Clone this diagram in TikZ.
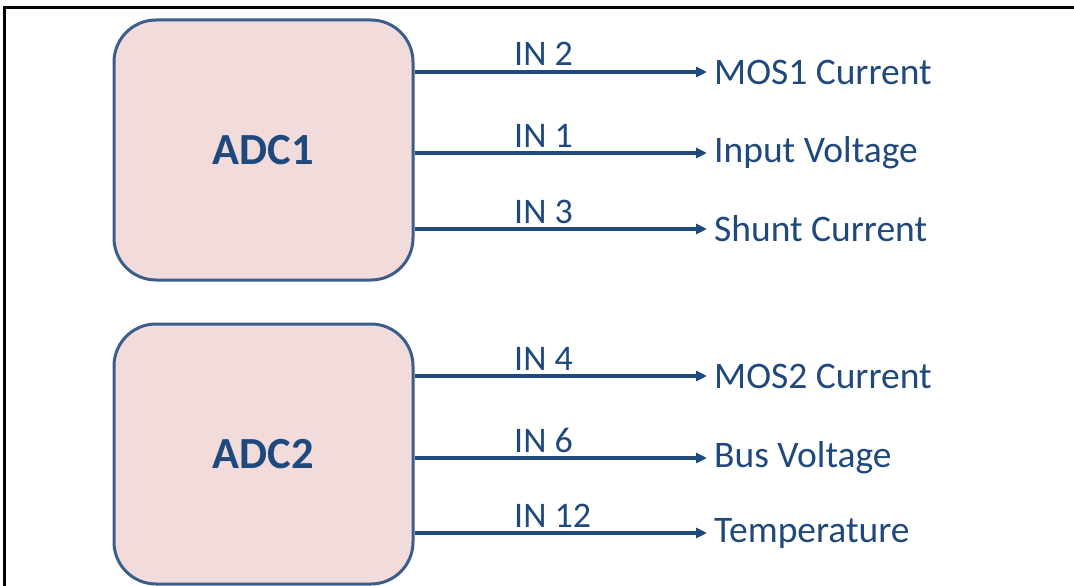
\documentclass[tikz,border=0pt]{standalone}
\usepackage{fontspec}
\setmainfont{Carlito}
\usetikzlibrary{arrows.meta}
\definecolor{boxfill}{HTML}{F2DCDB}
\definecolor{boxline}{HTML}{3A5E8C}
\definecolor{txt}{HTML}{1F497D}
\definecolor{arr}{HTML}{1F4A7C}
\tikzset{
  adcbox/.style={draw=boxline, fill=boxfill, line width=3pt, rounded corners=42pt,
    minimum width=299pt, minimum height=260pt, inner sep=0pt,
    font=\fontsize{44.5}{50}\selectfont\bfseries, text=txt},
  sig/.style={anchor=west, inner sep=0pt, font=\fontsize{37.5}{42}\selectfont, text=txt},
  inlbl/.style={anchor=base west, inner sep=0pt, font=\fontsize{36}{42}\selectfont, text=txt},
  conn/.style={draw=arr, line width=3.2pt, -{Triangle[length=11pt,width=10pt]}, shorten >=7pt},
  frame/.style={draw=black, line width=3pt}
}
\begin{document}
\begin{tikzpicture}[x=1pt,y=-1pt]
\useasboundingbox (0,0) rectangle (1074,586);
\draw[frame] (4,586) -- (4,8) -- (1074,8);
\node[adcbox] (adc1) at (263.5,150) {ADC1};
\node[adcbox] (adc2) at (263.5,454) {ADC2};
\node[sig] (s1) at (714,72) {MOS1 Current};
\node[sig] (s2) at (714,153) {Input Voltage};
\node[sig] (s3) at (714,229) {Shunt Current};
\node[sig] (s4) at (714,376) {MOS2 Current};
\node[sig] (s5) at (714,458) {Bus Voltage};
\node[sig] (s6) at (714,533) {Temperature};
\draw[conn] (adc1.east |- s1.west) -- (s1.west);
\draw[conn] (adc1.east |- s2.west) -- (s2.west);
\draw[conn] (adc1.east |- s3.west) -- (s3.west);
\draw[conn] (adc2.east |- s4.west) -- (s4.west);
\draw[conn] (adc2.east |- s5.west) -- (s5.west);
\draw[conn] (adc2.east |- s6.west) -- (s6.west);
\node[inlbl] (i1) at (514,66) {IN 2};
\node[inlbl] (i2) at (514,147) {IN 1};
\node[inlbl] (i3) at (514,223) {IN 3};
\node[inlbl] (i4) at (514,370) {IN 4};
\node[inlbl] (i5) at (514,452) {IN 6};
\node[inlbl] (i6) at (514,527) {IN 12};
\end{tikzpicture}
\end{document}
